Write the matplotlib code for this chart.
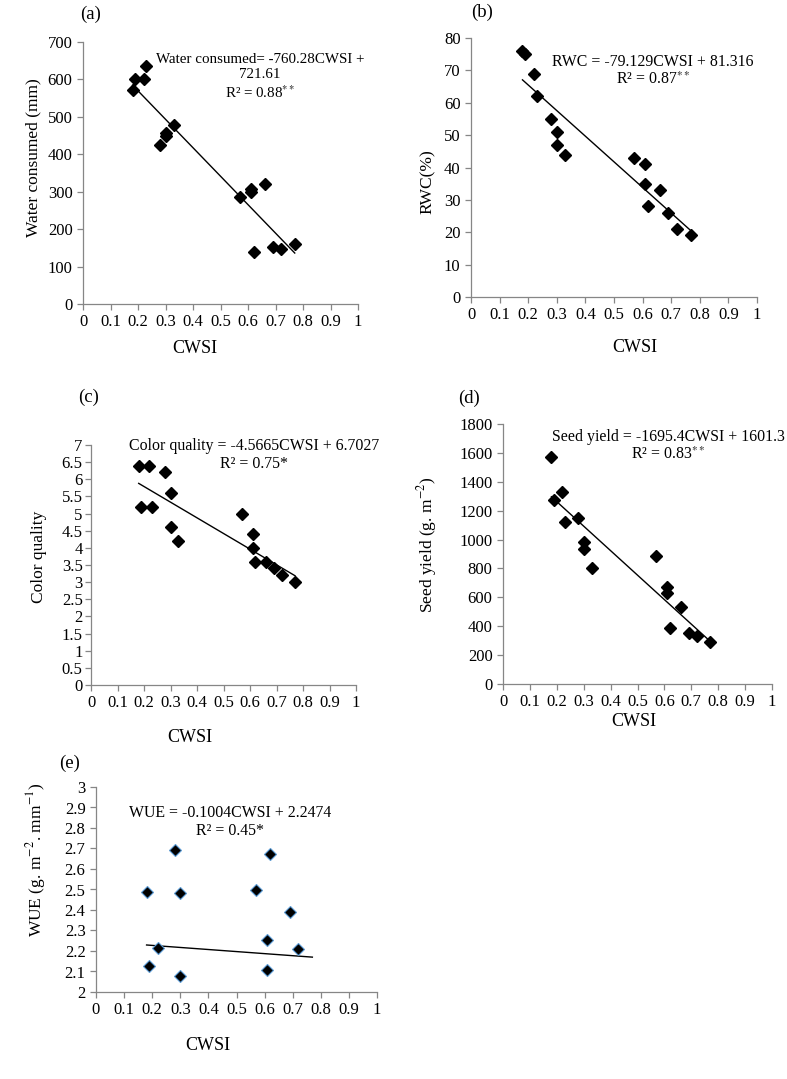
import numpy as np
import matplotlib
matplotlib.use("Agg")
import matplotlib.pyplot as plt

plt.rcParams['font.family'] = ['Liberation Serif', 'DejaVu Serif']
plt.rcParams['mathtext.fontset'] = 'stix'

W, H = 787, 1079

# data
cwsi_16 = [0.18, 0.19, 0.22, 0.23, 0.28, 0.30, 0.30, 0.33,
           0.57, 0.61, 0.61, 0.62, 0.66, 0.69, 0.72, 0.77]
water = [571, 601, 601, 635, 424, 448, 457, 477,
         285, 300, 307, 140, 320, 151, 146, 160]
rwc = [76, 75, 69, 62, 55, 51, 47, 44,
       43, 41, 35, 28, 33, 26, 21, 19]
cwsi_c = [0.18, 0.19, 0.22, 0.23, 0.28, 0.30, 0.30, 0.33,
          0.57, 0.61, 0.61, 0.62, 0.66, 0.69, 0.72, 0.77]
color_q = [6.4, 5.2, 6.4, 5.2, 6.2, 5.6, 4.6, 4.2,
           5.0, 4.4, 4.0, 3.6, 3.6, 3.4, 3.2, 3.0]
seed = [1569, 1274, 1327, 1119, 1152, 985, 932, 801,
        888, 674, 628, 390, 531, 355, 332, 293]
cwsi_e = [0.18, 0.19, 0.22, 0.28, 0.30, 0.30, 0.57, 0.62, 0.61, 0.61, 0.69, 0.72]
wue = [2.49, 2.127, 2.215, 2.693, 2.481, 2.077, 2.50, 2.672, 2.253, 2.106, 2.388, 2.212]

# trend line coefficients (slope, intercept) as printed
fits = {'a': (-760.28, 721.61), 'b': (-79.129, 81.316), 'c': (-4.5665, 6.7027),
        'd': (-1695.4, 1601.3), 'e': (-0.1004, 2.2474)}

LAB = 12.5   # axis label size
EQ = 11.4    # equation text size

fig = plt.figure(figsize=(W / 100, H / 100), dpi=100)


def px(x, y):
    return x / W, 1 - y / H


def make_ax(l, r, t, b):
    ax = fig.add_axes([l / W, 1 - b / H, (r - l) / W, (b - t) / H])
    for s in ['top', 'right']:
        ax.spines[s].set_visible(False)
    for s in ['left', 'bottom']:
        ax.spines[s].set_color('#868686')
        ax.spines[s].set_linewidth(0.9)
    ax.tick_params(colors='#868686', labelcolor='black', labelsize=12,
                   length=4, width=0.9, direction='out')
    ax.set_xlim(0, 1)
    ax.set_xticks(np.arange(0, 1.01, 0.1))
    ax.set_xticklabels(['0', '0.1', '0.2', '0.3', '0.4', '0.5', '0.6', '0.7', '0.8', '0.9', '1'])
    return ax


def ylab(ax, text, xpix, ypix, l, b, w, h):
    ax.set_ylabel(text, fontsize=LAB, va='center')
    ax.yaxis.set_label_coords((xpix - l) / w, (b - ypix) / h)


def trend(ax, xs, key):
    m, c = fits[key]
    xl = np.array([min(xs), max(xs)])
    ax.plot(xl, m * xl + c, color='black', lw=1.0, zorder=2)


mk = dict(marker='D', ls='none', color='black', ms=6.2, zorder=3)

# (a)
ax = make_ax(83, 358, 42, 304)
ax.plot(cwsi_16, water, **mk)
trend(ax, cwsi_16, 'a')
ax.set_ylim(0, 700)
ax.set_yticks(range(0, 701, 100))
ylab(ax, 'Water consumed (mm)', 33, 158, 83, 304, 275, 262)
fig.text(*px(195, 349), 'CWSI', fontsize=13, ha='center', va='center')
fig.text(*px(260, 77), 'Water consumed= -760.28CWSI +\n721.61\nR² = 0.88$^{**}$',
         fontsize=10.8, ha='center', va='center', linespacing=1.2)
fig.text(*px(91, 14), '(a)', fontsize=13.5, ha='center', va='center')

# (b)
ax = make_ax(471, 757, 38, 297)
ax.plot(cwsi_16, rwc, **mk)
trend(ax, cwsi_16, 'b')
ax.set_ylim(0, 80)
ax.set_yticks(range(0, 81, 10))
ylab(ax, 'RWC(%)', 428, 182, 471, 297, 286, 259)
fig.text(*px(635, 348), 'CWSI', fontsize=13, ha='center', va='center')
fig.text(*px(653, 71), 'RWC = -79.129CWSI + 81.316\nR² = 0.87$^{**}$',
         fontsize=EQ, ha='center', va='center', linespacing=1.15)
fig.text(*px(482, 12), '(b)', fontsize=13.5, ha='center', va='center')

# (c)
ax = make_ax(91, 356, 445, 685)
ax.plot(cwsi_c, color_q, **mk)
trend(ax, cwsi_c, 'c')
ax.set_ylim(0, 7)
ax.set_yticks(np.arange(0, 7.01, 0.5))
ax.set_yticklabels(['0', '0.5', '1', '1.5', '2', '2.5', '3', '3.5', '4', '4.5',
                    '5', '5.5', '6', '6.5', '7'])
ax.tick_params(axis='y', pad=2)
ylab(ax, 'Color quality', 39, 557, 91, 685, 265, 240)
fig.text(*px(190, 737), 'CWSI', fontsize=13, ha='center', va='center')
fig.text(*px(254, 455), 'Color quality = -4.5665CWSI + 6.7027\nR² = 0.75*',
         fontsize=EQ, ha='center', va='center', linespacing=1.15)
fig.text(*px(89, 397), '(c)', fontsize=13.5, ha='center', va='center')

# (d)
ax = make_ax(503, 772, 424, 684)
ax.plot(cwsi_16, seed, **mk)
trend(ax, cwsi_16, 'd')
ax.set_ylim(0, 1800)
ax.set_yticks(range(0, 1801, 200))
ylab(ax, 'Seed yield (g. m$^{-2}$)', 427, 545, 503, 684, 269, 260)
fig.text(*px(634, 722), 'CWSI', fontsize=13, ha='center', va='center')
fig.text(*px(668, 446), 'Seed yield = -1695.4CWSI + 1601.3\nR² = 0.83$^{**}$',
         fontsize=EQ, ha='center', va='center', linespacing=1.15)
fig.text(*px(469, 398), '(d)', fontsize=13.5, ha='center', va='center')

# (e)
ax = make_ax(96, 377, 787, 992)
ax.plot(cwsi_e, wue, marker='D', ls='none', color='black', ms=6.2,
        markeredgecolor='#5b9bd5', markeredgewidth=0.8, zorder=3)
trend(ax, cwsi_16, 'e')
ax.set_ylim(2, 3)
ax.set_yticks(np.arange(2, 3.001, 0.1))
ax.set_yticklabels(['2', '2.1', '2.2', '2.3', '2.4', '2.5', '2.6', '2.7', '2.8', '2.9', '3'])
ylab(ax, 'WUE (g. m$^{-2}$. mm$^{-1}$)', 36, 860, 96, 992, 281, 205)
fig.text(*px(208, 1045), 'CWSI', fontsize=13, ha='center', va='center')
fig.text(*px(230, 822), 'WUE = -0.1004CWSI + 2.2474\nR² = 0.45*',
         fontsize=EQ, ha='center', va='center', linespacing=1.15)
fig.text(*px(70, 763), '(e)', fontsize=13.5, ha='center', va='center')

fig.savefig('out.png', dpi=100)
